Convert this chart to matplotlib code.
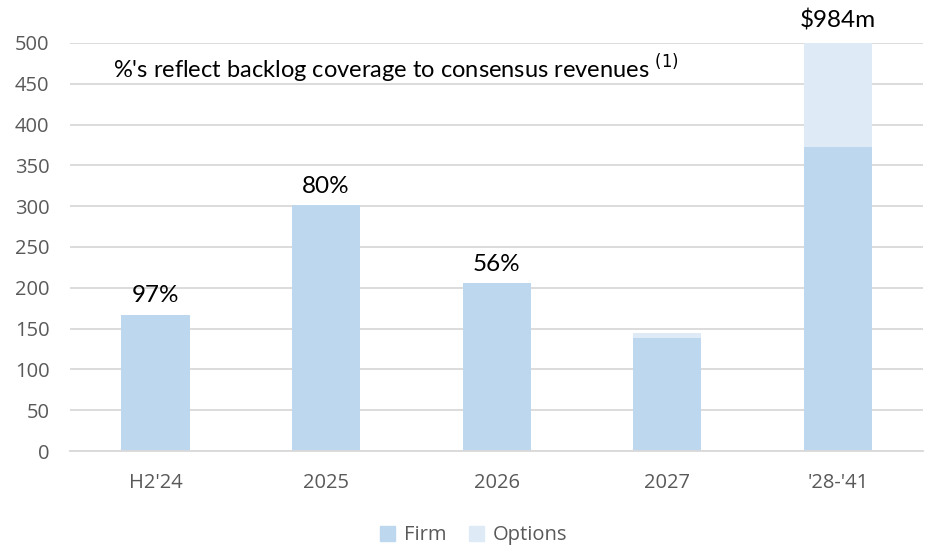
import matplotlib.pyplot as plt
from matplotlib.patches import Patch

# backlog by period ($m)
periods = ["H2'24", "2025", "2026", "2027", "'28-'41"]
firm = [167, 301, 206, 138, 373]
options = [0, 0, 0, 7, 611]
coverage = ["97%", "80%", "56%", "", ""]
total_label = "$984m"

firm_color = '#BDD7EE'
opt_color = '#DEEBF7'
tick_color = '#595959'

fig = plt.figure(figsize=(9.25, 5.49), dpi=100)
ax = fig.add_axes([0.076, 0.1785, 0.922, 0.7432])

x = list(range(len(periods)))
ax.bar(x, firm, width=0.4, color=firm_color, zorder=2)
ax.bar(x, options, width=0.4, bottom=firm, color=opt_color, zorder=2)

ax.set_xlim(-0.5, len(periods) - 0.5)
ax.set_ylim(0, 500)
ax.set_yticks(range(0, 501, 50))
ax.set_xticks(x)
ax.set_xticklabels(periods)
ax.yaxis.grid(True, color='#D9D9D9', linewidth=1.3, zorder=0)
ax.set_axisbelow(True)
for s in ['top', 'right', 'left']:
    ax.spines[s].set_visible(False)
ax.spines['bottom'].set_color('#D9D9D9')
ax.spines['bottom'].set_linewidth(1.3)
ax.tick_params(length=0, labelsize=14.5, colors=tick_color)
ax.tick_params(axis='x', pad=16)
ax.tick_params(axis='y', pad=15)
for lbl in ax.get_xticklabels() + ax.get_yticklabels():
    lbl.set_fontfamily('Open Sans')

# coverage labels above bars
for i, txt in enumerate(coverage):
    if txt:
        ax.annotate(txt, (x[i], firm[i] + options[i]), xytext=(0, 6),
                    textcoords='offset points', ha='center', va='bottom',
                    fontsize=17.5, family='Lato')
ax.annotate(total_label, (x[-1], 500), xytext=(0, 8),
            textcoords='offset points', ha='center', va='bottom',
            fontsize=17.5, family='Lato', annotation_clip=False)

fig.text(113 / 925, 1 - 69 / 549,
         "%'s reflect backlog coverage to consensus revenues $^{(1)}$",
         fontsize=17, family='Lato', va='center', ha='left')

handles = [Patch(color=firm_color, label='Firm'),
           Patch(color=opt_color, label='Options')]
fig.legend(handles=handles, loc='center', bbox_to_anchor=(0.512, 0.025),
           ncol=2, frameon=False, handlelength=0.75, handleheight=0.75,
           columnspacing=1.1, handletextpad=0.45,
           prop={'family': 'Open Sans', 'size': 14.5}, labelcolor=tick_color)

fig.savefig('out.png', dpi=100)
